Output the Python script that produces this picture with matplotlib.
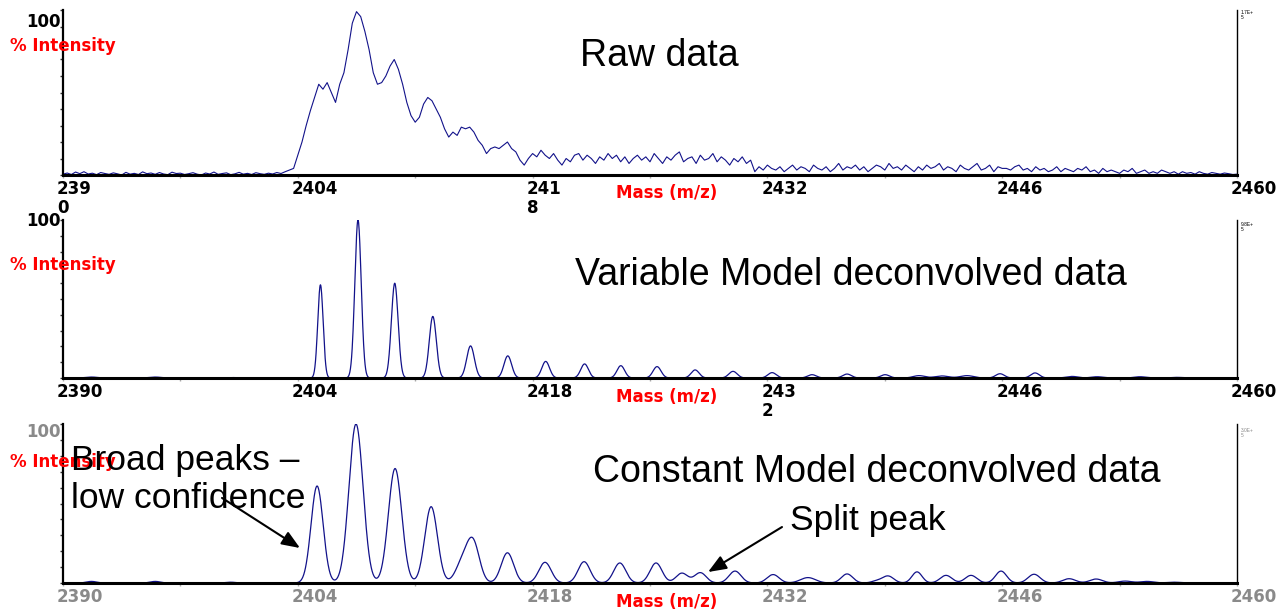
import numpy as np
import matplotlib
matplotlib.use("Agg")
import matplotlib.pyplot as plt
from matplotlib.transforms import ScaledTranslation

plt.rcParams['font.family'] = ['Liberation Sans', 'DejaVu Sans']

# ---- data ----
# raw spectrum, % intensity every 0.25 m/z from 2390 to 2460
raw_intensity = [
    0.5, 1.2, 0.3, 1.8, 0.8, 2.0, 0.6, 1.1, 0.2, 1.5,
    0.9, 0.4, 1.3, 0.7, 0.0, 1.6, 0.5, 1.0, 0.3, 1.9,
    0.8, 1.2, 0.4, 1.5, 0.6, 0.2, 1.7, 0.9, 1.1, 0.3,
    0.8, 1.4, 0.5, 0.0, 1.2, 0.6, 1.8, 0.4, 0.9, 1.3,
    0.2, 0.7, 1.6, 0.5, 1.0, 0.3, 1.4, 0.8, 0.4, 1.1,
    0.6, 1.5, 0.9, 2.0,
    3, 4, 12, 20, 30, 39, 47, 55, 52, 56,
    50, 44, 55, 62, 76, 92, 99, 96, 87, 76,
    62, 55, 56, 60, 66, 70, 64, 55, 44, 36,
    32, 35, 43, 47, 45, 40, 35, 28, 23, 26,
    24, 29, 28, 29, 26, 21, 18, 13, 16, 17,
    16, 18, 20, 16, 14, 9, 6, 10, 13, 11,
    15, 12, 10, 13, 9, 6, 10, 8, 12, 13,
    9, 12, 10, 7, 11, 9, 13, 10, 12, 8,
    11, 7, 10,
    12, 9, 11, 8, 13, 10, 7, 11, 9, 12,
    14, 8, 10, 11, 7, 12, 9, 10, 13, 8,
    11, 9, 6, 10, 8, 11, 7, 9,
    2, 5, 3, 6, 4, 3, 5, 2, 4, 6,
    3, 5, 4, 2, 6, 4, 3, 5, 2, 4,
    7, 3, 5, 4, 6, 3, 5, 2, 4, 6,
    5, 3, 7, 4, 5, 3, 6, 4, 2, 5,
    3, 6, 4, 5, 7, 3, 5, 4, 2, 6,
    4, 3, 5, 7, 3, 4, 6, 2, 5, 4,
    4, 3, 5, 6, 3, 4, 2, 5, 3, 4,
    2, 3, 5, 2, 4, 3, 2, 4, 3, 5,
    2, 3, 1, 4, 2, 3, 2, 1, 3, 2,
    4, 1, 2, 3, 1, 2, 1, 3, 2, 1,
    2, 0.5, 2, 1, 1.5, 0.5, 2, 1, 0.5, 1.5,
    1, 0.5, 1.2, 0.8, 0.3, 0.5,
]
raw_mass = np.linspace(2390, 2460, len(raw_intensity))

# variable model deconvolved peaks: centre, height (%), width (sigma)
var_center = [2391.7, 2395.5, 2400.0, 2405.35, 2407.59, 2409.78, 2412.05,
              2414.30, 2416.52, 2418.78, 2421.10, 2423.26, 2425.42, 2427.69,
              2429.95, 2432.28, 2434.66, 2436.75, 2439.02, 2441.04, 2442.4,
              2443.9, 2445.87, 2447.96, 2450.17, 2451.66, 2454.22, 2456.43]
var_height = [0.6, 0.6, 0.3, 59, 100, 60, 39, 20.3, 14, 10.5, 8.9, 7.8, 7.2,
              5.1, 4.2, 3.4, 2.1, 2.5, 2.1, 1.5, 1.3, 1.5, 2.7, 3.2, 1.0, 0.8,
              0.8, 0.4]
var_width = [0.35, 0.35, 0.35, 0.16, 0.19, 0.2, 0.21, 0.23, 0.23, 0.23, 0.23,
             0.23, 0.24, 0.24, 0.25, 0.25, 0.26, 0.26, 0.26, 0.35, 0.4, 0.4,
             0.26, 0.26, 0.35, 0.35, 0.35, 0.35]

# constant model deconvolved peaks
const_center = [2391.7, 2395.5, 2400.0, 2405.15, 2407.47, 2409.8, 2411.95,
                2413.8, 2414.45, 2416.5, 2418.74, 2421.07, 2423.2, 2425.36,
                2426.9, 2428.0, 2430.07, 2432.34, 2434.42, 2436.75, 2438.5,
                2439.19, 2440.92, 2442.65, 2444.14, 2445.93, 2447.9, 2449.99,
                2451.6, 2453.33, 2454.64, 2456.25]
const_height = [1.0, 1.0, 0.5, 61, 100, 72, 48, 12, 25, 19, 13, 13.4, 12.6,
                12.6, 6.2, 6.5, 7.5, 5.3, 3.4, 5.7, 1.2, 4.4, 7, 4.8, 4.8, 7.5,
                5.5, 2.7, 2.5, 1.2, 1.0, 0.5]
const_width = [0.3, 0.3, 0.3, 0.36, 0.42, 0.40, 0.38, 0.4, 0.38, 0.37, 0.37,
               0.36, 0.36, 0.36, 0.35, 0.35, 0.36, 0.36, 0.45, 0.34, 0.3, 0.34,
               0.3, 0.35, 0.35, 0.33, 0.36, 0.38, 0.38, 0.4, 0.4, 0.4]

tick_pos = [2390, 2404, 2418, 2432, 2446, 2460]
raw_ticklabels = ["239\n0", "2404", "241\n8", "2432", "2446", "2460"]
var_ticklabels = ["2390", "2404", "2418", "243\n2", "2446", "2460"]
const_ticklabels = ["2390", "2404", "2418", "2432", "2446", "2460"]


def peak_curve(x, centers, heights, widths):
    y = np.zeros_like(x)
    for c, h, w in zip(centers, heights, widths):
        y += h * np.exp(-0.5 * ((x - c) / w) ** 2)
    return y


W, H = 1284, 614
fig = plt.figure(figsize=(W / 100, H / 100), dpi=100)


def fx(px):
    return px / W


def fy(py):
    return 1 - py / H


line_col = "#12128a"
bold = dict(fontfamily="DejaVu Sans", fontweight="bold", fontsize=12)


def style(ax, labels, col):
    ax.set_xlim(2390, 2460)
    ax.set_ylim(0, 100)
    ax.spines["top"].set_visible(False)
    ax.spines["left"].set_linewidth(1.6)
    ax.spines["bottom"].set_linewidth(2.2)
    ax.spines["right"].set_linewidth(1.0)
    ax.set_yticks(np.arange(0, 101, 10))
    ax.set_yticklabels([])
    ax.tick_params(axis="y", direction="out", length=2.5, width=1, color="#333333")
    ax.set_xticks(tick_pos)
    ax.set_xticklabels(labels, ha="left", color=col, linespacing=1.1, **bold)
    ax.set_xticks(np.arange(2397, 2460, 14), minor=True)
    ax.tick_params(axis="x", which="both", direction="out", length=2.5,
                   width=1, color="#aaaaaa", pad=1)
    shift = ScaledTranslation(-0.06, 0, fig.dpi_scale_trans)
    for lab in ax.get_xticklabels():
        lab.set_transform(lab.get_transform() + shift)


x_fine = np.linspace(2390, 2460, 4000)

ax1 = fig.add_axes([fx(63), fy(175), fx(1174), 165 / H])
ax1.plot(raw_mass, raw_intensity, color=line_col, lw=0.8)
style(ax1, raw_ticklabels, "black")

ax2 = fig.add_axes([fx(63), fy(378), fx(1174), 158 / H])
ax2.plot(x_fine, peak_curve(x_fine, var_center, var_height, var_width),
         color=line_col, lw=0.9)
style(ax2, var_ticklabels, "black")

ax3 = fig.add_axes([fx(63), fy(583), fx(1174), 159 / H])
ax3.plot(x_fine, peak_curve(x_fine, const_center, const_height, const_width),
         color=line_col, lw=0.9)
style(ax3, const_ticklabels, "#8a8a8a")

# axis texts
for ytop, ylab, ymass, col in [(22, 46, 193, "black"), (221, 265, 397, "black"),
                               (432, 462, 602, "#8a8a8a")]:
    fig.text(fx(61), fy(ytop), "100", ha="right", va="center", color=col, **bold)
    fig.text(fx(10), fy(ylab), "% Intensity", ha="left", va="center",
             color="red", **bold)
    fig.text(fx(667), fy(ymass), "Mass (m/z)", ha="center", va="center",
             color="red", **bold)

for ytop, txt, col in [(10, "1.7E+\n5", "black"), (222, "9.8E+\n5", "black"),
                       (428, "3.0E+\n5", "#8a8a8a")]:
    fig.text(fx(1241), fy(ytop), txt, ha="left", va="top", fontsize=3.5,
             color=col, linespacing=1.0)

# titles and notes
fig.text(fx(580), fy(66), "Raw data", fontsize=27, va="baseline")
fig.text(fx(575), fy(285), "Variable Model deconvolved data", fontsize=27,
         va="baseline")
fig.text(fx(593), fy(482), "Constant Model deconvolved data", fontsize=27,
         va="baseline")
fig.text(fx(71), fy(470), "Broad peaks \u2013", fontsize=25.5, va="baseline")
fig.text(fx(71), fy(508), "low confidence", fontsize=25.5, va="baseline")
fig.text(fx(790), fy(530), "Split peak", fontsize=25.5, va="baseline")

arrow = dict(arrowstyle="-|>,head_length=0.55,head_width=0.22", color="black",
             lw=1.5, mutation_scale=20, shrinkA=0, shrinkB=0)
ax3.annotate("", xy=(2404.13, 22), xytext=(2399.48, 53.5), arrowprops=arrow)
ax3.annotate("", xy=(2428.46, 6.9), xytext=(2432.87, 35.2), arrowprops=arrow)

fig.savefig("out.png", dpi=100)
